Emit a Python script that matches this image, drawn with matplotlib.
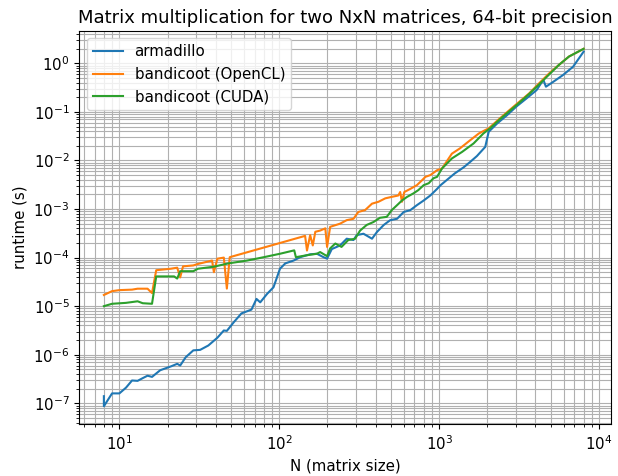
import matplotlib
matplotlib.use("Agg")
import matplotlib.pyplot as plt

plt.rcParams["font.size"] = 10.8

# ================== Data ==================
# armadillo (CPU)
arma_n = [8, 8, 9, 10, 11, 12, 13, 14, 15, 16, 18, 21, 23, 24, 26, 29, 32, 36, 41, 45,
          47, 52, 58, 67, 72, 76, 84, 92, 101, 109, 123, 135, 156, 172, 189, 199, 213,
          240, 264, 291, 305, 336, 380, 409, 450, 494, 545, 600, 660, 725, 800, 880,
          970, 1020, 1250, 1420, 1560, 1720, 1940, 2040, 2300, 2650, 3040, 3520, 4060,
          4480, 4650, 5170, 5950, 6870, 8000]
arma_t = [1.4e-7, 8.7e-8, 1.6e-7, 1.6e-7, 2.1e-7, 2.95e-7, 2.9e-7, 3.3e-7, 3.7e-7, 3.5e-7,
          4.8e-7, 5.75e-7, 6.5e-7, 6.0e-7, 8.9e-7, 1.23e-6, 1.26e-6, 1.55e-6, 2.24e-6, 3.16e-6,
          3.1e-6, 4.7e-6, 7.1e-6, 8.5e-6, 1.41e-5, 1.2e-5, 1.8e-5, 2.45e-5, 5.9e-5, 7.6e-5,
          8.7e-5, 1.02e-4, 1.17e-4, 1.2e-4, 1.02e-4, 9.5e-5, 1.5e-4,
          1.78e-4, 2.45e-4, 2.3e-4, 2.9e-4, 3.1e-4, 2.45e-4, 3.4e-4, 4.7e-4, 5.9e-4, 6.3e-4,
          8.7e-4, 9.5e-4, 1.2e-3, 1.5e-3, 1.9e-3,
          2.6e-3, 3.1e-3, 5.4e-3, 7.2e-3, 9.3e-3, 1.23e-2, 1.9e-2, 3.9e-2, 5.75e-2, 8.5e-2,
          0.129, 0.19, 0.28, 0.457, 0.33, 0.417, 0.575, 0.85, 1.74]

# bandicoot, OpenCL backend
ocl_n = [8, 9, 10, 12, 13, 15, 16, 17, 21, 23, 24, 25, 29, 31, 38, 39, 41, 45, 47, 49,
         145, 149, 156, 162, 168, 180, 194, 199, 208, 240, 264, 291, 312, 344, 380, 417,
         460, 505, 555, 570, 585, 605, 660, 725, 780, 820, 880, 970, 1040, 1200, 1350,
         1560, 1770, 2040, 2400, 2760, 3170, 3650, 4220, 4870, 5610, 6480, 8000]
ocl_t = [1.7e-5, 2.04e-5, 2.14e-5, 2.19e-5, 2.29e-5, 2.29e-5, 1.86e-5, 5.5e-5, 5.9e-5, 6.2e-5,
         3.9e-5, 6.6e-5, 6.9e-5, 7.4e-5, 8.7e-5, 5.0e-5, 9.5e-5, 1.0e-4, 2.3e-5, 1.02e-4,
         2.8e-4, 1.4e-4, 2.9e-4, 1.78e-4, 3.4e-4, 3.6e-4, 4.0e-4, 1.66e-4, 4.3e-4, 5.0e-4,
         5.9e-4, 6.3e-4, 8.7e-4, 9.5e-4, 1.29e-3, 1.41e-3,
         1.66e-3, 1.78e-3, 1.9e-3, 2.24e-3, 1.41e-3, 2.24e-3, 2.6e-3, 3.1e-3, 3.9e-3, 4.6e-3,
         5.0e-3, 6.3e-3, 6.8e-3, 1.38e-2, 1.78e-2,
         2.6e-2, 3.6e-2, 4.6e-2, 7.4e-2, 0.11, 0.162, 0.24, 0.39, 0.62, 0.93, 1.38, 1.99]

# bandicoot, CUDA backend
cuda_n = [8, 9, 11, 13, 14, 16, 17, 22, 23, 24, 29, 31, 39, 48, 63, 80, 101, 124, 127,
          149, 172, 180, 199, 208, 224, 245, 270, 298, 320, 352, 388, 426, 470, 505, 545,
          585, 630, 690, 740, 800, 860, 920, 970, 1040, 1200, 1390, 1640, 1890, 2080,
          2400, 2760, 3170, 3650, 4220, 4870, 5610, 6480, 8000]
cuda_t = [1.0e-5, 1.12e-5, 1.17e-5, 1.26e-5, 1.15e-5, 1.12e-5, 4.1e-5, 4.1e-5, 3.7e-5, 5.25e-5,
          5.25e-5, 5.9e-5, 6.5e-5, 7.6e-5, 8.7e-5, 1.02e-4, 1.2e-4, 1.41e-4, 1.02e-4,
          1.12e-4, 1.2e-4, 1.3e-4, 1.07e-4, 1.55e-4, 1.95e-4, 1.66e-4, 2.3e-4, 2.45e-4, 3.6e-4,
          4.7e-4, 5.4e-4, 6.6e-4, 6.9e-4, 9.5e-4, 1.2e-3,
          1.5e-3, 1.78e-3, 2.1e-3, 2.45e-3, 3.1e-3, 3.4e-3, 4.3e-3, 4.6e-3, 6.8e-3, 1.1e-2,
          1.5e-2, 2.24e-2, 3.6e-2, 4.6e-2,
          7.1e-2, 0.105, 0.155, 0.234, 0.37, 0.59, 0.93, 1.38, 1.99]

# ================== Plot ==================
fig, ax = plt.subplots(figsize=(6.18, 4.76), dpi=100)
fig.subplots_adjust(left=0.128, right=0.989, top=0.935, bottom=0.109)

ax.plot(arma_n, arma_t, label="armadillo")
ax.plot(ocl_n, ocl_t, label="bandicoot (OpenCL)")
ax.plot(cuda_n, cuda_t, label="bandicoot (CUDA)")

ax.set_xscale("log")
ax.set_yscale("log")
ax.set_xlim(5.6, 1.19e4)
ax.grid(True, which="both")

ax.set_title("Matrix multiplication for two NxN matrices, 64-bit precision")
ax.set_xlabel("N (matrix size)")
ax.set_ylabel("runtime (s)")
ax.legend(loc="upper left")

plt.savefig("out.png", dpi=100)
plt.close()
